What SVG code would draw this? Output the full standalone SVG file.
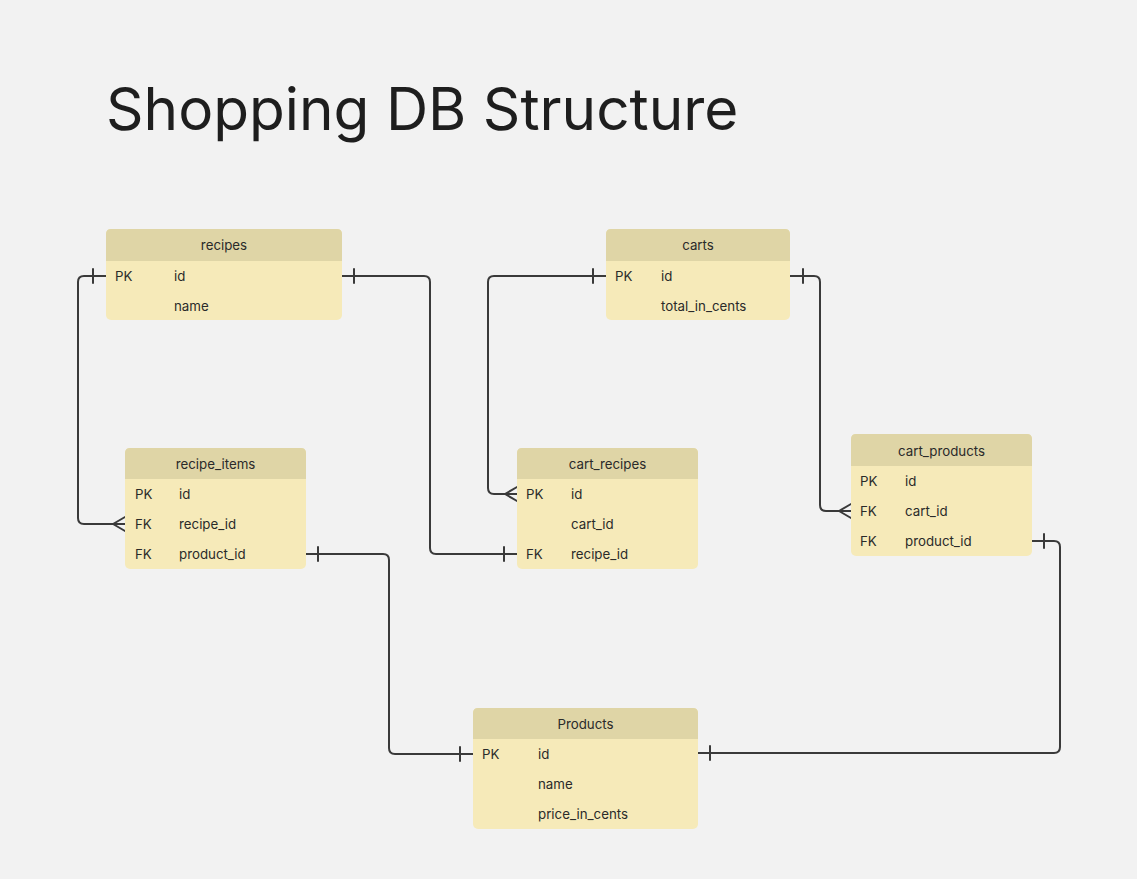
<svg xmlns="http://www.w3.org/2000/svg" width="1137" height="879" viewBox="0 0 1137 879">
<defs>
<style>
.bg{fill:#f2f2f2}
.body{fill:#f6eab9}
.head{fill:#dfd5a6}
.t{font-family:Inter,"Liberation Sans",sans-serif;font-size:13.3px;fill:#2a2a2a}
.h{text-anchor:middle}
.title{font-family:Inter,"Liberation Sans",sans-serif;font-size:58.5px;fill:#1e1e1e}
.c{fill:none;stroke:#3a3a3a;stroke-width:2;stroke-linejoin:round;stroke-linecap:round}
</style>
</defs>
<rect class="bg" x="0" y="0" width="1137" height="879"/>
<text class="title" x="106" y="130">Shopping DB Structure</text>

<g id="connectors">
  <!-- recipes.id -> recipe_items.recipe_id -->
  <path class="c" d="M106 276 H84 Q78 276 78 282 V518 Q78 524 84 524 H125"/>
  <path class="c" d="M93 269 V283"/>
  <path class="c" d="M125 517 L113 524 L125 531"/>
  <!-- recipes.id -> cart_recipes.recipe_id -->
  <path class="c" d="M342 276 H424 Q430 276 430 282 V548 Q430 554 436 554 H517"/>
  <path class="c" d="M354 269 V283"/>
  <path class="c" d="M504 547 V561"/>
  <!-- carts.id -> cart_recipes.id -->
  <path class="c" d="M606 276 H494 Q488 276 488 282 V488 Q488 494 494 494 H517"/>
  <path class="c" d="M593 269 V283"/>
  <path class="c" d="M517 487 L505 494 L517 501"/>
  <!-- carts.id -> cart_products.cart_id -->
  <path class="c" d="M790 276 H814 Q820 276 820 282 V505 Q820 511 826 511 H851"/>
  <path class="c" d="M803 269 V283"/>
  <path class="c" d="M851 504 L839 511 L851 518"/>
  <!-- recipe_items.product_id -> Products.id -->
  <path class="c" d="M306 554 H383 Q389 554 389 560 V748 Q389 754 395 754 H473"/>
  <path class="c" d="M318 547 V561"/>
  <path class="c" d="M460 747 V761"/>
  <!-- cart_products.product_id -> Products.id -->
  <path class="c" d="M1032 541 H1054 Q1060 541 1060 547 V747 Q1060 753 1054 753 H698"/>
  <path class="c" d="M1044 534 V548"/>
  <path class="c" d="M710 746 V760"/>
</g>

<g id="recipes">
  <rect class="body" x="106" y="229" width="236" height="91" rx="5"/>
  <path class="head" d="M106 261 V234 Q106 229 111 229 H337 Q342 229 342 234 V261 Z"/>
  <text class="t h" x="224" y="250">recipes</text>
  <text class="t" x="115" y="281">PK</text>
  <text class="t" x="174" y="281">id</text>
  <text class="t" x="174" y="311">name</text>
</g>

<g id="carts">
  <rect class="body" x="606" y="229" width="184" height="91" rx="5"/>
  <path class="head" d="M606 261 V234 Q606 229 611 229 H785 Q790 229 790 234 V261 Z"/>
  <text class="t h" x="698" y="250">carts</text>
  <text class="t" x="615" y="281">PK</text>
  <text class="t" x="661" y="281">id</text>
  <text class="t" x="661" y="311">total_in_cents</text>
</g>

<g id="recipe_items">
  <rect class="body" x="125" y="448" width="181" height="121" rx="5"/>
  <path class="head" d="M125 479 V453 Q125 448 130 448 H301 Q306 448 306 453 V479 Z"/>
  <text class="t h" x="215.5" y="469">recipe_items</text>
  <text class="t" x="135" y="499">PK</text>
  <text class="t" x="179" y="499">id</text>
  <text class="t" x="135" y="529">FK</text>
  <text class="t" x="179" y="529">recipe_id</text>
  <text class="t" x="135" y="559">FK</text>
  <text class="t" x="179" y="559">product_id</text>
</g>

<g id="cart_recipes">
  <rect class="body" x="517" y="448" width="181" height="121" rx="5"/>
  <path class="head" d="M517 479 V453 Q517 448 522 448 H693 Q698 448 698 453 V479 Z"/>
  <text class="t h" x="607.5" y="469">cart_recipes</text>
  <text class="t" x="526" y="499">PK</text>
  <text class="t" x="571" y="499">id</text>
  <text class="t" x="571" y="529">cart_id</text>
  <text class="t" x="526" y="559">FK</text>
  <text class="t" x="571" y="559">recipe_id</text>
</g>

<g id="cart_products">
  <rect class="body" x="851" y="434" width="181" height="122" rx="5"/>
  <path class="head" d="M851 466 V439 Q851 434 856 434 H1027 Q1032 434 1032 439 V466 Z"/>
  <text class="t h" x="941.5" y="456">cart_products</text>
  <text class="t" x="860" y="486">PK</text>
  <text class="t" x="905" y="486">id</text>
  <text class="t" x="860" y="516">FK</text>
  <text class="t" x="905" y="516">cart_id</text>
  <text class="t" x="860" y="546">FK</text>
  <text class="t" x="905" y="546">product_id</text>
</g>

<g id="Products">
  <rect class="body" x="473" y="708" width="225" height="121" rx="5"/>
  <path class="head" d="M473 739 V713 Q473 708 478 708 H693 Q698 708 698 713 V739 Z"/>
  <text class="t h" x="585.5" y="729">Products</text>
  <text class="t" x="482" y="759">PK</text>
  <text class="t" x="538" y="759">id</text>
  <text class="t" x="538" y="789">name</text>
  <text class="t" x="538" y="819">price_in_cents</text>
</g>
</svg>
